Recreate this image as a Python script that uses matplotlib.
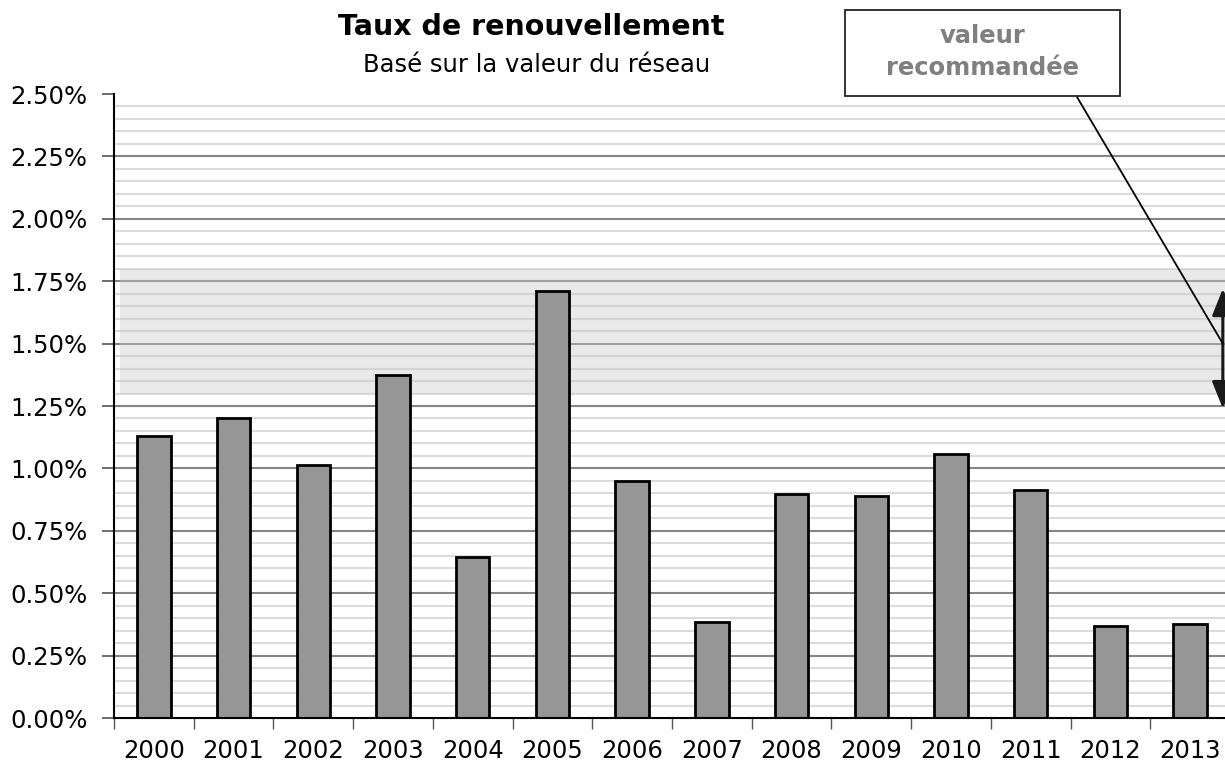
import matplotlib
matplotlib.use("Agg")
import matplotlib.pyplot as plt
from matplotlib.patches import Rectangle
import numpy as np

years = ["2000", "2001", "2002", "2003", "2004", "2005", "2006",
         "2007", "2008", "2009", "2010", "2011", "2012", "2013"]
rates = [1.13, 1.20, 1.014, 1.374, 0.645, 1.711, 0.950,
         0.385, 0.897, 0.889, 1.058, 0.913, 0.369, 0.377]
band_low, band_high = 1.30, 1.80
rec_low, rec_high = 1.24, 1.72
rec_mid = 1.50
ytick_vals = [0.0, 0.25, 0.5, 0.75, 1.0, 1.25, 1.5, 1.75, 2.0, 2.25, 2.5]
title = "Taux de renouvellement"
subtitle = "Basé sur la valeur du réseau"
box_text = "valeur\nrecommandée"

W, H = 1225, 765
plt.rcParams['font.family'] = ['DejaVu Sans']
fig = plt.figure(figsize=(W / 100, H / 100), dpi=100)

ax_left, ax_right, ax_top, ax_bot = 114, 1230, 94, 718
ax = fig.add_axes([ax_left / W, 1 - ax_bot / H, (ax_right - ax_left) / W, (ax_bot - ax_top) / H])

x = np.arange(len(years))
ax.set_xlim(-0.5, len(years) - 0.5)
ax.set_ylim(0, 2.5)

# grid
for v in np.arange(0.05, 2.5001, 0.05):
    if abs(round(v / 0.25) * 0.25 - v) < 1e-6:
        continue
    ax.axhline(v, color='#dcdcdc', lw=1.5, zorder=0.5)
for v in ytick_vals[1:-1]:
    ax.axhline(v, color='#858585', lw=1.5, zorder=0.6)

# band
ax.add_patch(Rectangle((-0.43, band_low), len(years), band_high - band_low,
                       facecolor='#c8c8c8', alpha=0.4, edgecolor='none', zorder=1))

ax.bar(x, rates, width=0.42, color='#969696', edgecolor='black', linewidth=2, zorder=2)

ax.set_yticks(ytick_vals)
ax.set_yticklabels([f"{v:.2f}%" for v in ytick_vals], fontsize=17.5)
ax.set_xticks(x)
ax.set_xticklabels(years, fontsize=17.5)
ax.set_xticks(np.arange(-0.5, len(years), 1), minor=True)
ax.tick_params(axis='x', which='major', length=0, pad=15)
ax.tick_params(axis='x', which='minor', length=8, width=1, color='#555555', direction='out')
ax.tick_params(axis='y', length=9, width=1.2, color='#555555', direction='out', pad=10)
for s in ['top', 'right']:
    ax.spines[s].set_visible(False)
ax.spines['left'].set_linewidth(1.5)
ax.spines['bottom'].set_linewidth(1.5)

# arrow
arr_x = 13.41
ax.annotate('', xy=(arr_x, rec_high), xytext=(arr_x, rec_low),
            arrowprops=dict(arrowstyle='<|-|>,head_width=0.3,head_length=0.75',
                            color='#1a1a1a', lw=2.2,
                            mutation_scale=22, shrinkA=0, shrinkB=0),
            zorder=5, annotation_clip=False)

# callout box
bx0, by0, bx1, by1 = 845, 10, 1120, 96
fig.patches.append(Rectangle((bx0 / W, 1 - by1 / H), (bx1 - bx0) / W, (by1 - by0) / H,
                             transform=fig.transFigure, facecolor='white',
                             edgecolor='#222222', lw=1.3, zorder=10))
fig.text((bx0 + bx1) / 2 / W, 1 - 52 / H, box_text, ha='center', va='center',
         fontsize=17.5, fontweight='bold', color='#808080', linespacing=1.4, zorder=11)
ax.annotate('', xy=(arr_x, rec_mid), xycoords='data',
            xytext=(1077 / W, 1 - 97 / H), textcoords='figure fraction',
            arrowprops=dict(arrowstyle='-', color='black', lw=1.3, shrinkA=0, shrinkB=0),
            annotation_clip=False, zorder=6)

fig.text(531 / W, 1 - 27 / H, title, ha='center', va='center', fontsize=20.5, fontweight='bold')
fig.text(537 / W, 1 - 65 / H, subtitle, ha='center', va='center', fontsize=17.5)

fig.savefig('out.png', dpi=100)
